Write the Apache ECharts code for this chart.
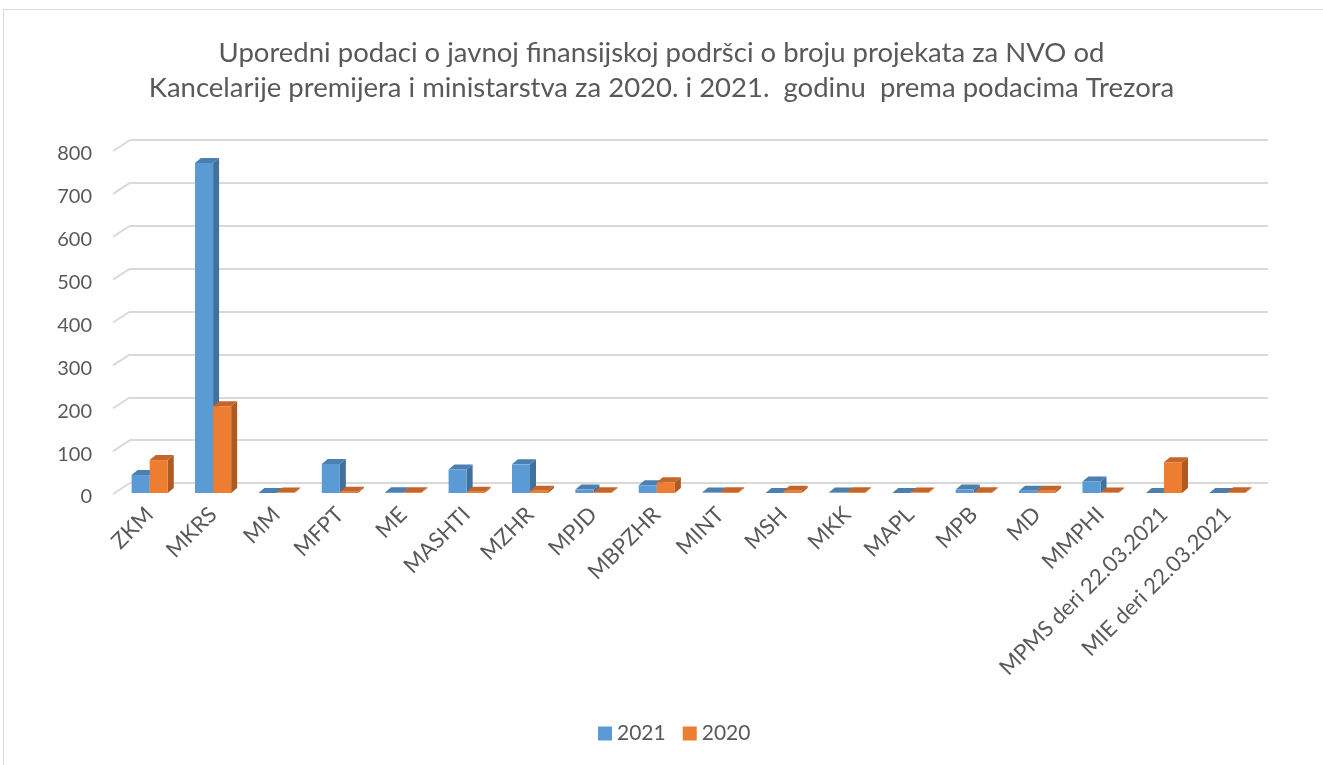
<!DOCTYPE html>
<html>
<head>
<meta charset="utf-8">
<script src="https://cdn.jsdelivr.net/npm/echarts@6/dist/echarts.min.js"></script>
<style>
  html, body { margin: 0; padding: 0; background: #fff; }
  #frame { position: absolute; left: 3px; top: 9px; width: 1330px; height: 770px; border: 1px solid #d9d9d9; box-sizing: border-box; }
  #chart { position: absolute; left: 0; top: 0; width: 1323px; height: 765px; }
</style>
</head>
<body>
<div id="frame"></div>
<div id="chart"></div>
<script>
const titleText = 'Uporedni podaci o javnoj finansijskoj podršci o broju projekata za NVO od\nKancelarije premijera i ministarstva za 2020. i 2021.  godinu  prema podacima Trezora'

const categories = [
  'ZKM', 'MKRS', 'MM', 'MFPT', 'ME', 'MASHTI', 'MZHR', 'MPJD', 'MBPZHR',
  'MINT', 'MSH', 'MKK', 'MAPL', 'MPB', 'MD', 'MMPHI',
  'MPMS deri 22.03.2021', 'MIE deri 22.03.2021'
]
const values2021 = [42, 772, 0, 68, 2, 55, 67, 8, 18, 1, 0, 1, 0, 8, 5, 27, 0, 0]
const values2020 = [77, 203, 1, 3, 2, 3, 5, 2, 25, 2, 5, 2, 1, 2, 5, 1, 72, 2]
const yTicks = [0, 100, 200, 300, 400, 500, 600, 700, 800]

const palette = {
  2021: { front: '#5b9bd5', side: '#41719c', top: '#4a7fb0' },
  2020: { front: '#ed7d31', side: '#ae5a21', top: '#c4652a' }
}

// depth of the bar "3D" faces
const DX = 6
const DY = 5

function barRenderer(colors, offsetSign) {
  return (params, api) => {
    const idx = api.value(0)
    const val = api.value(1)
    const top = api.coord([idx, val])
    const base = api.coord([idx, 0])
    const band = api.size([1, 0])[0]
    const w = band * 0.285
    const x0 = offsetSign < 0 ? top[0] - w : top[0]
    const x1 = x0 + w
    const yT = top[1]
    const yB = base[1]
    return {
      type: 'group',
      children: [
        {
          type: 'polygon',
          shape: { points: [[x1, yB], [x1 + DX, yB - DY], [x1 + DX, yT - DY], [x1, yT]] },
          style: { fill: colors.side }
        },
        {
          type: 'polygon',
          shape: { points: [[x0, yT], [x0 + DX, yT - DY], [x1 + DX, yT - DY], [x1, yT]] },
          style: { fill: colors.top }
        },
        {
          type: 'rect',
          shape: { x: x0, y: yT, width: w, height: Math.max(0, yB - yT) },
          style: { fill: colors.front }
        }
      ]
    }
  }
}

const chart = echarts.init(document.getElementById('chart'))

chart.setOption({
  animation: false,
  textStyle: { fontFamily: 'Lato, "Open Sans", sans-serif' },
  title: {
    text: titleText,
    left: 'center',
    top: 31,
    textStyle: { fontSize: 27.5, fontWeight: 'normal', color: '#595959', lineHeight: 35, fontFamily: 'Lato, "Open Sans", sans-serif' }
  },
  legend: {
    data: ['2021', '2020'],
    bottom: 16,
    left: 593,
    icon: 'rect',
    itemWidth: 14,
    itemHeight: 14,
    itemGap: 17,
    textStyle: { fontSize: 21, color: '#595959' }
  },
  grid: [
    // front plane: bars and category labels
    { left: 118, right: 64, top: 151, bottom: 272 },
    // back wall: gridlines
    { left: 130, right: 55, top: 140, bottom: 282 },
    // value labels
    { left: 118, right: 64, top: 154, bottom: 268 }
  ],
  xAxis: [
    {
      type: 'category',
      gridIndex: 0,
      data: categories,
      axisLine: { show: false },
      axisTick: { show: false },
      axisLabel: { rotate: 45, color: '#595959', fontSize: 22, margin: 18, interval: 0 }
    },
    { type: 'category', gridIndex: 1, data: categories, show: false },
    { type: 'category', gridIndex: 2, data: categories, show: false }
  ],
  yAxis: [
    {
      type: 'value',
      gridIndex: 0,
      min: 0,
      max: 800,
      interval: 100,
      show: false
    },
    {
      type: 'value',
      gridIndex: 1,
      min: 0,
      max: 800,
      interval: 100,
      axisLine: { show: false },
      axisTick: { show: false },
      axisLabel: { show: false },
      splitLine: { lineStyle: { color: '#d9d9d9', width: 2 } }
    },
    {
      type: 'value',
      gridIndex: 2,
      min: 0,
      max: 800,
      interval: 100,
      axisLine: { show: false },
      axisTick: { show: false },
      splitLine: { show: false },
      axisLabel: { color: '#595959', fontSize: 20, margin: 26 }
    }
  ],
  series: [
    {
      name: 'wall-edge',
      type: 'custom',
      xAxisIndex: 1,
      yAxisIndex: 1,
      silent: true,
      data: yTicks.map((v) => [0, v]),
      renderItem: (params, api) => {
        const p = api.coord([0, api.value(1)])
        const x = params.coordSys.x
        return {
          type: 'line',
          shape: { x1: x, y1: p[1], x2: x - 17, y2: p[1] + 11 },
          style: { stroke: '#d9d9d9', lineWidth: 2 }
        }
      }
    },
    {
      name: '2021',
      type: 'custom',
      xAxisIndex: 0,
      yAxisIndex: 0,
      itemStyle: { color: palette[2021].front },
      data: values2021.map((v, i) => [i, v]),
      renderItem: barRenderer(palette[2021], -1)
    },
    {
      name: '2020',
      type: 'custom',
      xAxisIndex: 0,
      yAxisIndex: 0,
      itemStyle: { color: palette[2020].front },
      data: values2020.map((v, i) => [i, v]),
      renderItem: barRenderer(palette[2020], 1)
    }
  ]
})
</script>
</body>
</html>
